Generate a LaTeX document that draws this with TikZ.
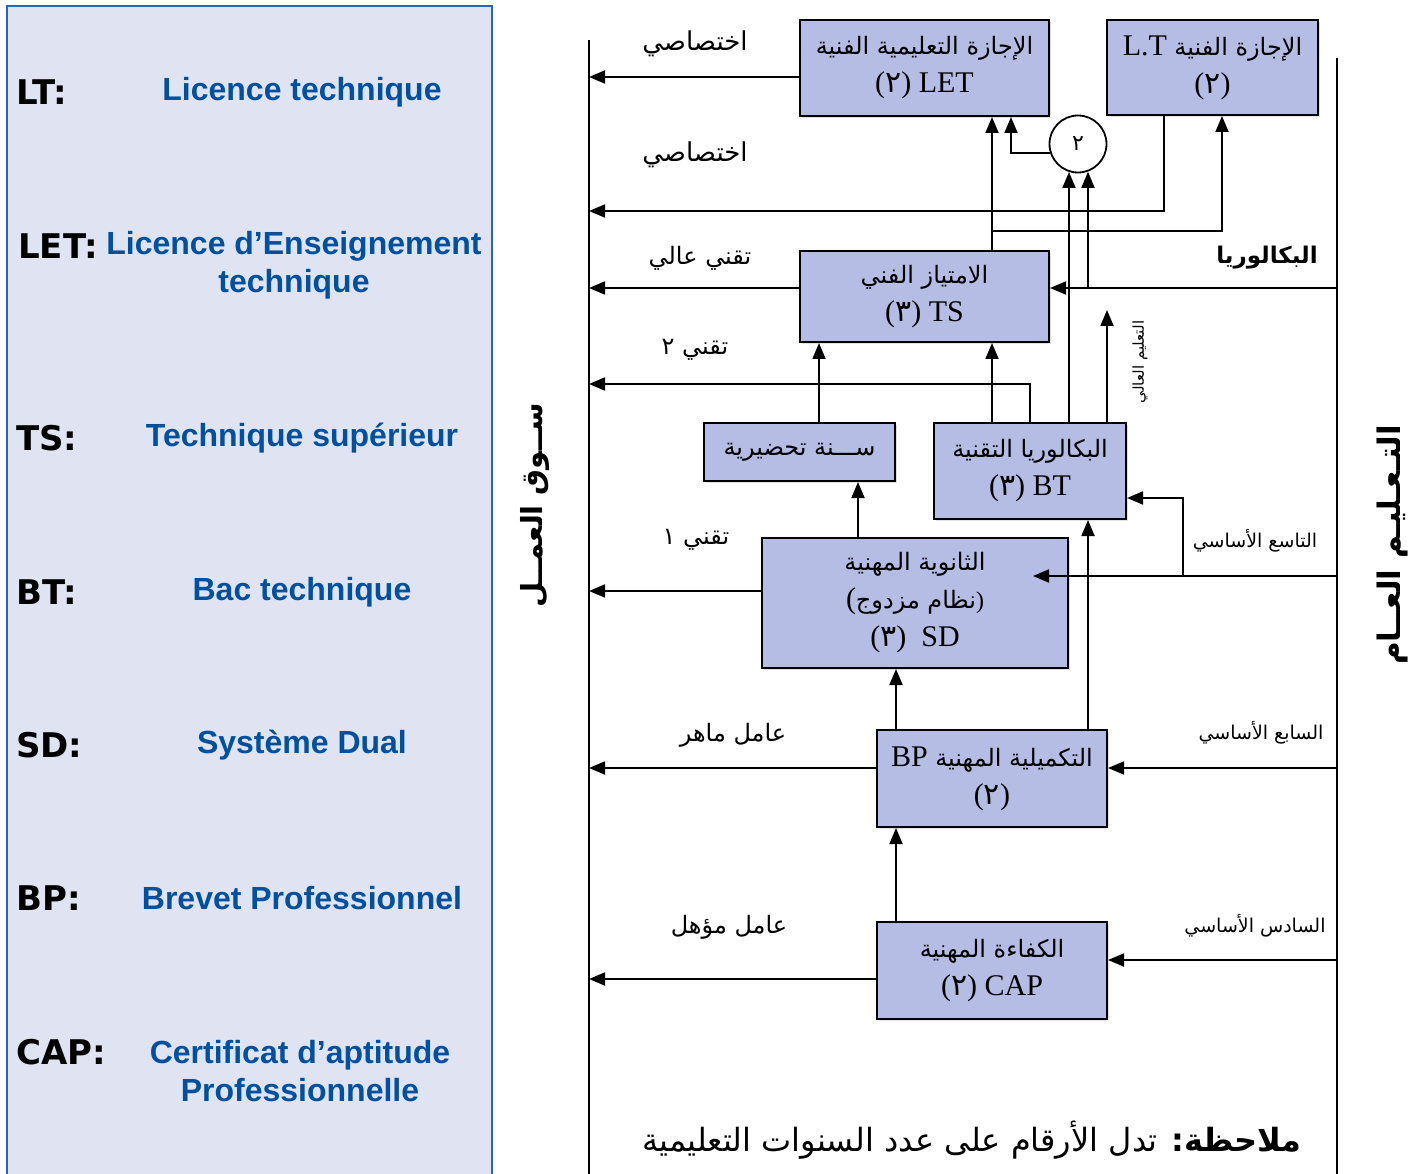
\documentclass[tikz,border=0pt]{standalone}
\usepackage{fontspec}
\usetikzlibrary{arrows.meta,shadows}
\setmainfont{Liberation Serif}
\newfontfamily\arfont[Script=Arabic]{DejaVu Sans}
\newfontfamily\sansb{Liberation Sans}
\newfontfamily\dejav{DejaVu Sans}
\TeXXeTstate=1
\newcommand{\AR}[1]{{\arfont\beginR #1\endR}}
\newcommand{\fs}[1]{\fontsize{#1}{38}\selectfont}
\newcommand{\dg}[1]{{\arfont #1}}
\definecolor{panelfill}{RGB}{223,227,242}
\definecolor{panelline}{RGB}{40,100,190}
\definecolor{descblue}{RGB}{0,80,160}
\definecolor{boxfill}{RGB}{182,189,228}
\begin{document}
\begin{tikzpicture}[x=1pt,y=-1pt,
  abbr/.style={anchor=west,inner sep=0pt,font=\dejav\bfseries\fontsize{34}{34}\selectfont,text=black},
  desc/.style={inner sep=0pt,align=center,font=\sansb\bfseries\fontsize{32}{38}\selectfont,text=descblue},
  bx/.style={draw=black,line width=2pt,fill=boxfill,align=center,inner sep=0pt,
     drop shadow={shadow xshift=2pt,shadow yshift=-2pt,opacity=0.25,fill=gray},
     font=\fontsize{30}{38}\selectfont},
  lbl/.style={inner sep=0pt,font=\fontsize{24}{24}\selectfont},
  ln/.style={line width=1.8pt},
  arr/.style={line width=1.8pt,-{Triangle[length=16pt,width=13pt]}}]
\useasboundingbox (0,0) rectangle (1425,1174);
% left panel
\fill[panelfill] (7,6) rectangle (492,1174);
\draw[panelline,line width=1.2pt] (7,1174) -- (7,6) -- (492,6) -- (492,1174);
\node[abbr] (aLT) at (16,92) {LT:};
\node[abbr] (aLET) at (18,246) {LET:};
\node[abbr] (aTS) at (16,438) {TS:};
\node[abbr] (aBT) at (16,592) {BT:};
\node[abbr] (aSD) at (16,745) {SD:};
\node[abbr] (aBP) at (16,898) {BP:};
\node[abbr] (aCAP) at (16,1052) {CAP:};
\node[desc] (dLT) at (302,92) {Licence technique};
\node[desc] (dLET) at (294,265) {Licence d’Enseignement\\technique};
\node[desc] (dTS) at (302,438) {Technique supérieur};
\node[desc] (dBT) at (302,592) {Bac technique};
\node[desc] (dSD) at (302,745) {Système Dual};
\node[desc] (dBP) at (302,898) {Brevet Professionnel};
\node[desc] (dCAP) at (300,1071) {Certificat d’aptitude\\Professionnelle};
% main rails
\coordinate (mkt) at (589,40);
\coordinate (mktb) at (589,1174);
\coordinate (gen) at (1337,58);
\coordinate (genb) at (1337,1174);
\draw[ln] (mkt) -- (mktb);
\draw[ln] (gen) -- (genb);
% boxes
\node[bx,minimum width=249pt,minimum height=96pt] (LET) at (924.5,68)
  {{\fs{24}\AR{الإجازة التعليمية الفنية}}\\(\dg{٢}) LET};
\node[bx,minimum width=211pt,minimum height=95pt] (LT) at (1212.5,67.5)
  {L.T {\fs{24}\AR{الإجازة الفنية}}\\(\dg{٢})};
\node[bx,minimum width=249pt,minimum height=91pt] (TS) at (924.5,296.5)
  {{\fs{24}\AR{الامتياز الفني}}\\(\dg{٣}) TS};
\node[bx,minimum width=191pt,minimum height=58pt] (PREP) at (799.5,452)
  {{\fs{24}\AR{ســـنة تحضيرية}}};
\node[bx,minimum width=192pt,minimum height=96pt] (BT) at (1030,471)
  {{\fs{24}\AR{البكالوريا التقنية}}\\(\dg{٣}) BT};
\node[bx,minimum width=306pt,minimum height=130pt] (SD) at (915,603)
  {{\fs{24}\AR{الثانوية المهنية}}\\(\fs{24}\AR{نظام مزدوج})\\(\dg{٣})\ \ SD};
\node[bx,minimum width=230pt,minimum height=97pt] (BP) at (992,778.5)
  {BP {\fs{24}\AR{التكميلية المهنية}}\\(\dg{٢})};
\node[bx,minimum width=230pt,minimum height=97pt] (CAP) at (992,970.5)
  {{\fs{24}\AR{الكفاءة المهنية}}\\(\dg{٢}) CAP};
\node[circle,draw,line width=1.8pt,fill=white,minimum size=57pt,inner sep=0pt,font=\fontsize{22}{22}\selectfont] (circ) at (1078,144) {\dg{٢}};
% helper coordinates
\coordinate (h211) at (1164,211);
\coordinate (br) at (992,231);
\coordinate (brR) at (1222,231);
\coordinate (bac) at (1088,288);
\coordinate (c1069) at (1069,400);
\coordinate (t2) at (1030,384);
\coordinate (he) at (1107,310);
\coordinate (j9) at (1183,576);
\coordinate (hbt) at (1183,498);
\coordinate (sdtip) at (1033,576);
\coordinate (hsd) at (700,591);
\coordinate (h7) at (1200,768);
\coordinate (h6) at (1200,960);
\coordinate (hcap) at (700,979);
\coordinate (hlet) at (700,77);
\coordinate (v1011) at (1011,150);
\coordinate (v819) at (819,0);
\coordinate (v858) at (858,0);
\coordinate (v896) at (896,0);
\coordinate (v1088) at (1088,0);
% connectors
\draw[arr] (LET.west |- hlet) -- (hlet -| mkt);
\draw[arr] (LT.south -| h211) -- (h211) -- (h211 -| mkt);
\draw[arr] (TS.north -| br) -- (LET.south -| br);
\draw[arr] (br) -- (brR) -- (LT.south -| brR);
\draw[arr] (circ.198) -| (LET.south -| v1011);
\draw[arr] (BT.north -| c1069) -- (c1069 |- circ.-108);
\draw[arr] (bac) -- (bac |- circ.-71);
\draw[arr] (gen |- bac) -- (TS.east |- bac);
\draw[arr] (TS.west |- bac) -- (bac -| mkt);
\draw[arr] (BT.north -| t2) -- (t2) -- (t2 -| mkt);
\draw[arr] (BT.north -| he) -- (he);
\draw[arr] (PREP.north -| v819) -- (TS.south -| v819);
\draw[arr] (BT.north -| br) -- (TS.south -| br);
\draw[arr] (gen |- j9) -- (sdtip);
\draw[arr] (j9) -- (hbt) -- (BT.east |- hbt);
\draw[arr] (SD.west |- hsd) -- (hsd -| mkt);
\draw[arr] (SD.north -| v858) -- (PREP.south -| v858);
\draw[arr] (BP.north -| v896) -- (SD.south -| v896);
\draw[arr] (BP.north -| v1088) -- (BT.south -| v1088);
\draw[arr] (gen |- h7) -- (BP.east |- h7);
\draw[arr] (BP.west |- h7) -- (h7 -| mkt);
\draw[arr] (CAP.north -| v896) -- (BP.south -| v896);
\draw[arr] (gen |- h6) -- (CAP.east |- h6);
\draw[arr] (CAP.west |- hcap) -- (hcap -| mkt);
% labels
\node[lbl,font=\fontsize{26}{26}\selectfont] (l1) at (695,44) {\AR{اختصاصي}};
\node[lbl,font=\fontsize{26}{26}\selectfont] (l2) at (695,155) {\AR{اختصاصي}};
\node[lbl] (l3) at (700,258) {\AR{تقني عالي}};
\node[lbl] (l4) at (695,350) {\AR{تقني ٢}};
\node[lbl] (l5) at (696,540) {\AR{تقني ١}};
\node[lbl] (l6) at (733,735) {\AR{عامل ماهر}};
\node[lbl] (l7) at (729,927) {\AR{عامل مؤهل}};
\node[lbl,font=\bfseries\fontsize{23}{23}\selectfont] (l8) at (1267,258) {\AR{البكالوريا}};
\node[lbl,font=\fontsize{19}{19}\selectfont] (l9) at (1255,541) {\AR{التاسع الأساسي}};
\node[lbl,font=\fontsize{19}{19}\selectfont] (l10) at (1261,733) {\AR{السابع الأساسي}};
\node[lbl,font=\fontsize{19}{19}\selectfont] (l11) at (1255,926) {\AR{السادس الأساسي}};
\node[lbl,rotate=90,font=\fontsize{15}{15}\selectfont] (l12) at (1140,362) {\AR{التعليم العالي}};
\node[lbl,rotate=90,font=\bfseries\fontsize{29}{29}\selectfont] (mktl) at (535,505) {\AR{ســوق العمــل}};
\node[lbl,rotate=90,font=\bfseries\fontsize{31}{31}\selectfont] (genl) at (1392,545) {\AR{التـعـليـم العــام}};
\node[lbl,font=\fontsize{32}{32}\selectfont] (note) at (972,1140) {\AR{{\bfseries ملاحظة:} تدل الأرقام على عدد السنوات التعليمية}};
\end{tikzpicture}
\end{document}
